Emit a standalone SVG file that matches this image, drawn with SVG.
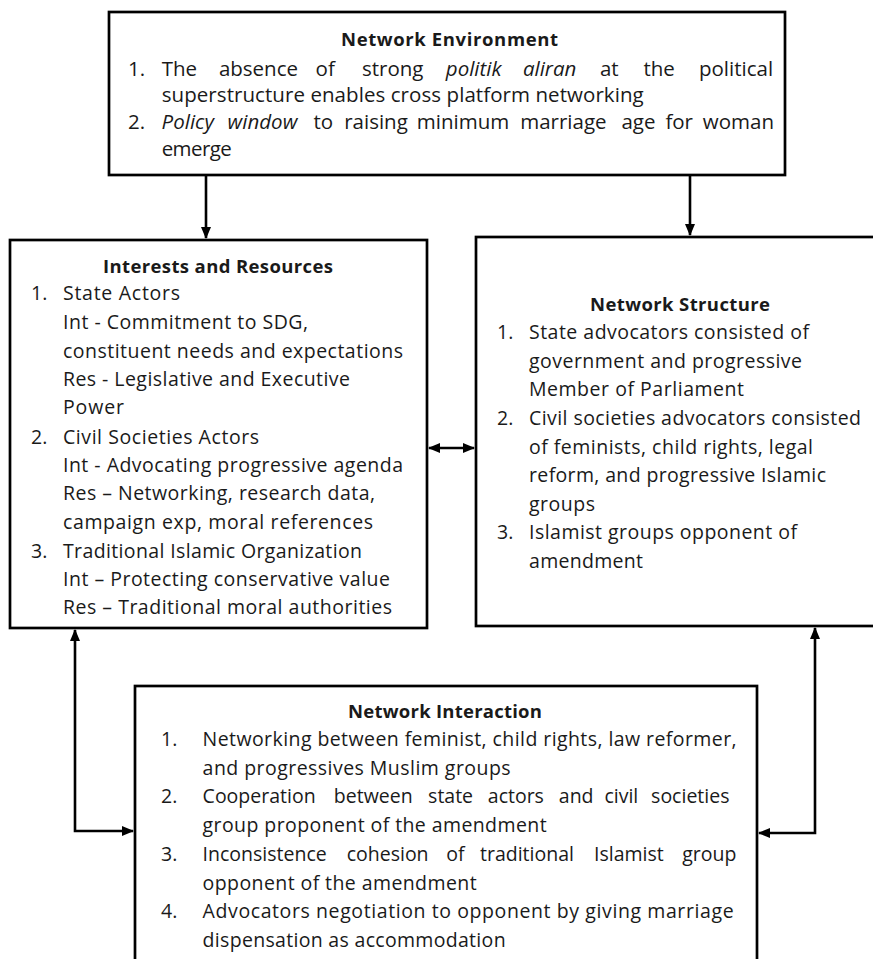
<svg xmlns="http://www.w3.org/2000/svg" width="873" height="959" viewBox="0 0 873 959">
<style>
.box{fill:#fff;stroke:#000;stroke-width:2.7}
.t{font-family:"Open Sans","Liberation Sans",sans-serif;font-size:19.5px;fill:#1a1a1a}
.big{font-size:20.5px}
.b{font-weight:bold;font-size:18.5px}
.i{font-style:italic}
.c{fill:none;stroke:#000;stroke-width:2.6}
</style>
<defs>
<marker id="ah" viewBox="0 0 12 10" markerWidth="12" markerHeight="10" refX="11" refY="5" orient="auto-start-reverse" markerUnits="userSpaceOnUse">
<path d="M0,0 L12,5 L0,10 z" fill="#000"/>
</marker>
</defs>
<rect width="873" height="959" fill="#fff"/>

<g id="connectors">
<line class="c" x1="206" y1="175" x2="206" y2="238" marker-end="url(#ah)"/>
<line class="c" x1="690" y1="175" x2="690" y2="235" marker-end="url(#ah)"/>
<line class="c" x1="429" y1="448" x2="474" y2="448" marker-start="url(#ah)" marker-end="url(#ah)"/>
<path class="c" d="M133 831 H75 V630" marker-start="url(#ah)" marker-end="url(#ah)"/>
<path class="c" d="M759 833 H815 V628" marker-start="url(#ah)" marker-end="url(#ah)"/>
</g>

<g id="network-environment">
<rect class="box" x="109" y="12" width="676" height="163"/>
<text class="t b" x="449.5" y="46" text-anchor="middle" textLength="217" lengthAdjust="spacing">Network Environment</text>
<text class="t big" y="76"><tspan x="128">1.</tspan><tspan x="161.7">The</tspan><tspan x="218.9">absence</tspan><tspan x="315.6">of</tspan><tspan x="362">strong</tspan><tspan x="445.8" class="i">politik</tspan><tspan x="522.9" class="i">aliran</tspan><tspan x="599.9">at</tspan><tspan x="643.4">the</tspan><tspan x="699">political</tspan></text>
<text class="t big" x="161.7" y="102" textLength="482" lengthAdjust="spacing">superstructure enables cross platform networking</text>
<text class="t big" y="129"><tspan x="128">2.</tspan><tspan x="161.6" class="i">Policy</tspan><tspan x="227.6" class="i">window</tspan><tspan x="313.4">to</tspan><tspan x="344.2">raising</tspan><tspan x="416.8">minimum</tspan><tspan x="520.2">marriage</tspan><tspan x="621.4">age</tspan><tspan x="665.4">for</tspan><tspan x="702.8">woman</tspan></text>
<text class="t big" x="161.7" y="156" textLength="70" lengthAdjust="spacing">emerge</text>
</g>

<g id="interests-resources">
<rect class="box" x="10" y="240" width="417" height="388"/>
<text class="t b" x="218" y="273" text-anchor="middle" textLength="230" lengthAdjust="spacing">Interests and Resources</text>
<text class="t" x="31" y="300">1.</text>
<text class="t" x="63" y="300" textLength="117" lengthAdjust="spacing">State Actors</text>
<text class="t" x="63" y="329" textLength="245" lengthAdjust="spacing">Int - Commitment to SDG,</text>
<text class="t" x="63" y="358" textLength="340" lengthAdjust="spacing">constituent needs and expectations</text>
<text class="t" x="63" y="386" textLength="287" lengthAdjust="spacing">Res - Legislative and Executive</text>
<text class="t" x="63" y="414" textLength="61" lengthAdjust="spacing">Power</text>
<text class="t" x="31" y="444">2.</text>
<text class="t" x="63" y="444" textLength="196" lengthAdjust="spacing">Civil Societies Actors</text>
<text class="t" x="63" y="472" textLength="340" lengthAdjust="spacing">Int - Advocating progressive agenda</text>
<text class="t" x="63" y="500" textLength="312" lengthAdjust="spacing">Res – Networking, research data,</text>
<text class="t" x="63" y="529" textLength="310" lengthAdjust="spacing">campaign exp, moral references</text>
<text class="t" x="31" y="558">3.</text>
<text class="t" x="63" y="558" textLength="299" lengthAdjust="spacing">Traditional Islamic Organization</text>
<text class="t" x="63" y="586" textLength="327" lengthAdjust="spacing">Int – Protecting conservative value</text>
<text class="t" x="63" y="614" textLength="329" lengthAdjust="spacing">Res – Traditional moral authorities</text>
</g>

<g id="network-structure">
<rect class="box" x="476" y="237" width="404" height="389"/>
<text class="t b" x="680" y="311" text-anchor="middle" textLength="180" lengthAdjust="spacing">Network Structure</text>
<text class="t" x="497" y="339">1.</text>
<text class="t" x="529" y="339" textLength="280" lengthAdjust="spacing">State advocators consisted of</text>
<text class="t" x="529" y="367.6" textLength="273" lengthAdjust="spacing">government and progressive</text>
<text class="t" x="529" y="396" textLength="215" lengthAdjust="spacing">Member of Parliament</text>
<text class="t" x="497" y="425">2.</text>
<text class="t" x="529" y="425" textLength="332" lengthAdjust="spacing">Civil societies advocators consisted</text>
<text class="t" x="529" y="453.5" textLength="284" lengthAdjust="spacing">of feminists, child rights, legal</text>
<text class="t" x="529" y="482" textLength="297" lengthAdjust="spacing">reform, and progressive Islamic</text>
<text class="t" x="529" y="510.6" textLength="66" lengthAdjust="spacing">groups</text>
<text class="t" x="497" y="539">3.</text>
<text class="t" x="529" y="539" textLength="268" lengthAdjust="spacing">Islamist groups opponent of</text>
<text class="t" x="529" y="568" textLength="114" lengthAdjust="spacing">amendment</text>
</g>

<g id="network-interaction">
<rect class="box" x="135" y="686" width="622" height="282"/>
<text class="t b" x="445" y="718" text-anchor="middle" textLength="194" lengthAdjust="spacing">Network Interaction</text>
<text class="t" x="161" y="746">1.</text>
<text class="t" x="202.6" y="746" textLength="534" lengthAdjust="spacing">Networking between feminist, child rights, law reformer,</text>
<text class="t" x="202.6" y="774.7" textLength="308" lengthAdjust="spacing">and progressives Muslim groups</text>
<text class="t" y="803.4"><tspan x="161">2.</tspan><tspan x="202.6">Cooperation</tspan><tspan x="333.8">between</tspan><tspan x="428.1">state</tspan><tspan x="487.8">actors</tspan><tspan x="558.8">and</tspan><tspan x="604.4">civil</tspan><tspan x="651.1">societies</tspan></text>
<text class="t" x="202.6" y="832" textLength="344" lengthAdjust="spacing">group proponent of the amendment</text>
<text class="t" y="861"><tspan x="161">3.</tspan><tspan x="202.6">Inconsistence</tspan><tspan x="346.7">cohesion</tspan><tspan x="446.3">of</tspan><tspan x="480">traditional</tspan><tspan x="594">Islamist</tspan><tspan x="682.2">group</tspan></text>
<text class="t" x="202.6" y="889.5" textLength="274" lengthAdjust="spacing">opponent of the amendment</text>
<text class="t" x="161" y="918">4.</text>
<text class="t" x="202.6" y="918" textLength="531" lengthAdjust="spacing">Advocators negotiation to opponent by giving marriage</text>
<text class="t" x="202.6" y="947" textLength="303" lengthAdjust="spacing">dispensation as accommodation</text>
</g>
</svg>
